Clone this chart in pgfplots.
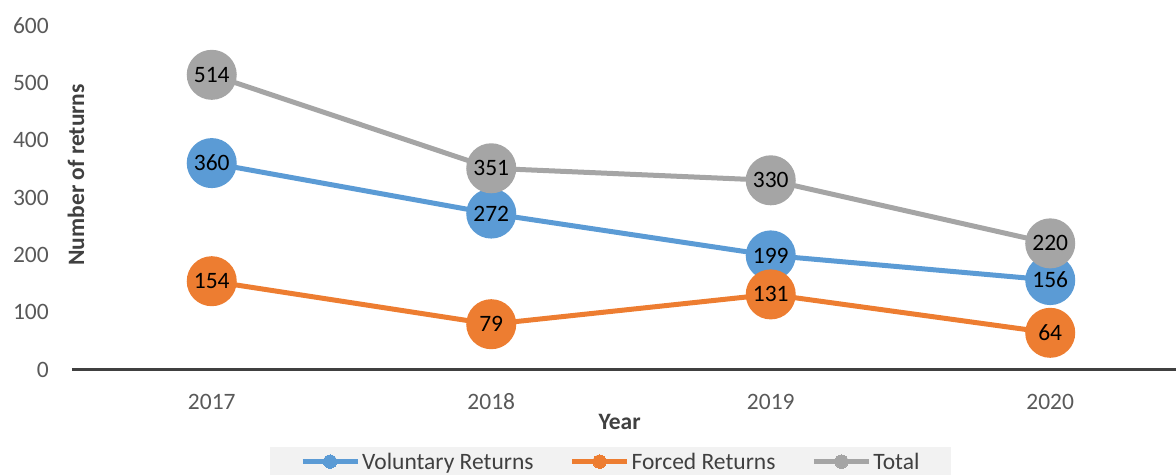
\documentclass[border=0pt]{standalone}
\usepackage{fontspec}
\setmainfont{Carlito}
\usepackage{pgfplots}
\pgfplotsset{compat=1.18}
\definecolor{cblue}{HTML}{5B9BD5}
\definecolor{corange}{HTML}{ED7D31}
\definecolor{cgray}{HTML}{A5A5A5}
\definecolor{ctick}{HTML}{595959}
\definecolor{caxis}{HTML}{404040}
\definecolor{clegbg}{HTML}{F2F2F2}
\newcommand{\cf}{\fontsize{23.5}{28}\selectfont}
\begin{document}
\begin{tikzpicture}
\path[use as bounding box] (-72pt,-105pt) rectangle (1104pt,369.5pt);
\begin{axis}[
  at={(0pt,0pt)}, anchor=south west,
  scale only axis,
  width=1104pt, height=344pt,
  xmin=-0.5, xmax=3.45,
  ymin=0, ymax=600,
  xtick={0,1,2,3},
  xticklabels={2017,2018,2019,2020},
  ytick={0,100,200,300,400,500,600},
  axis x line=bottom,
  axis y line=left,
  y axis line style={draw=none},
  x axis line style={draw=caxis, line width=3.3pt, -},
  major tick length=0pt,
  tick style={draw=none},
  clip=false,
  /pgf/number format/assume math mode=true,
  ticklabel style={font=\cf, text=ctick},
  yticklabel style={anchor=east, inner sep=0pt, xshift=-23pt},
  xticklabel style={anchor=base, inner sep=0pt, yshift=-39.5pt},
  xlabel={\textbf{Year}},
  xlabel style={at={(axis description cs:0.496,0)}, anchor=base, inner sep=0pt, yshift=-59.5pt, font=\cf, text=caxis},
  ylabel={\textbf{Number of returns}},
  ylabel style={at={(axis description cs:0.0036,0.566)}, anchor=center, inner sep=0pt, font=\cf, text=caxis},
  legend columns=3,
  legend style={at={(axis description cs:0.488,0)}, anchor=north, yshift=-77pt,
    fill=clegbg, draw=none, font=\cf, text=caxis,
    inner xsep=30pt, inner ysep=4pt,
    /tikz/every even column/.append style={column sep=34pt}},
  legend image code/.code={\draw[#1, line width=5pt, mark=none] (0pt,0pt) -- (55pt,0pt); \fill[#1, line width=0pt] (27.5pt,0pt) circle (6.7pt);},
  nodes near coords,
  every node near coord/.append style={anchor=center, font=\cf, text=black, inner sep=0pt, xshift=0pt, yshift=0pt},
  every axis plot/.append style={line width=5pt, mark=*, mark size=22.5pt},
]
\addplot[color=cblue, mark options={fill=cblue, draw=none}] coordinates {(0,360) (1,272) (2,199) (3,156)};
\addlegendentry{Voluntary Returns}
\addplot[color=corange, mark options={fill=corange, draw=none}] coordinates {(0,154) (1,79) (2,131) (3,64)};
\addlegendentry{Forced Returns}
\addplot[color=cgray, mark options={fill=cgray, draw=none}] coordinates {(0,514) (1,351) (2,330) (3,220)};
\addlegendentry{Total}
\end{axis}
\end{tikzpicture}
\end{document}
